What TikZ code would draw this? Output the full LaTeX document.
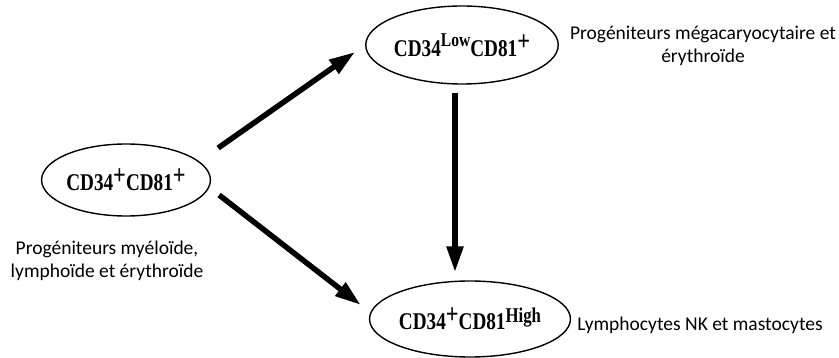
\documentclass[tikz,border=0pt]{standalone}
\usepackage{fontspec}
\setmainfont{Liberation Serif}
\newfontfamily\cellfont{Liberation Serif}[FakeStretch=0.8]
\newfontfamily\labfont{Carlito}
\usetikzlibrary{shapes.geometric,arrows.meta,calc}
\newcommand{\upmark}[3]{\raisebox{#1}{\fontsize{#2}{#2}\selectfont #3}}
\tikzset{
  cell/.style={draw, ellipse, line width=1.4pt, inner sep=0pt, font=\cellfont\bfseries\fontsize{24}{28}\selectfont},
  arr/.style={line width=5.5pt, -{Triangle[length=26pt,width=16pt]}},
  note/.style={align=center, font=\labfont\fontsize{19.5}{23}\selectfont}
}
\begin{document}
\begin{tikzpicture}[x=1pt,y=-1pt]
\useasboundingbox (0,0) rectangle (839,358);
\node[cell, minimum width=160pt, minimum height=72pt] (L) at (126,180) {CD34\upmark{6pt}{28}{+}CD81\upmark{6pt}{28}{+}};
\node[cell, minimum width=155pt, minimum height=78pt] (T) at (462,45) {CD34\upmark{10pt}{19.5}{Low}CD81\upmark{6pt}{28}{+}};
\node[cell, minimum width=170pt, minimum height=76pt] (B) at (470,319) {CD34\upmark{6pt}{28}{+}CD81\upmark{7pt}{21}{High}};
\draw[arr] ($(L.east)+(7,-32)$) -- ($(T.west)+(-10,7)$);
\draw[arr] ($(L.east)+(8,15)$) -- ($(B.west)+(-8,-14)$);
\draw[arr] ($(T.south)+(-7,8)$) -- ($(B.north)+(-15,-8)$);
\node[note] (n1) at (703,46) {Progéniteurs mégacaryocytaire et\\érythroïde};
\node[note] (n2) at (107,261) {Progéniteurs myéloïde,\\lymphoïde et érythroïde};
\node[note] (n3) at (700,325) {Lymphocytes NK et mastocytes};
\end{tikzpicture}
\end{document}
